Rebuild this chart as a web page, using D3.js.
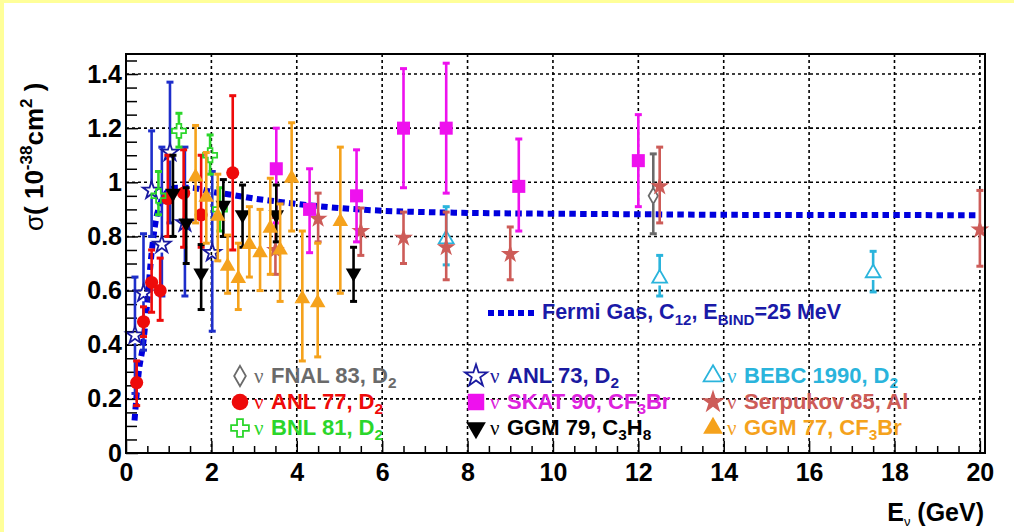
<!DOCTYPE html>
<html>
<head>
<meta charset="utf-8">
<script src="https://cdnjs.cloudflare.com/ajax/libs/d3/7.8.5/d3.min.js"></script>
<style>
body{margin:0;background:#fff;}
svg{display:block;font-family:"Liberation Sans",Arial,sans-serif;font-weight:bold;}
</style>
</head>
<body>
<div id="chart"></div>
<script>
/* data: [E (GeV), sigma, lower end of bar, upper end of bar] */
var ANL73 = [[0.21,0.435,0.22,0.65],[0.41,0.59,0.38,0.81],[0.6,0.97,0.80,1.19],[0.84,0.77,0.58,1.13],
	[1.03,1.11,0.85,1.37],[1.38,0.85,0.58,1.13],[2.02,0.74,0.45,1.04]];
var ANL77 = [[0.25,0.26,0.175,0.34],[0.41,0.485,0.43,0.54],[0.6,0.63,0.52,0.75],[0.8,0.60,0.49,0.72],
	[0.98,0.94,0.80,1.10],[1.35,0.96,0.76,1.12],[1.76,0.88,0.76,1.10],[2.5,1.035,0.75,1.32]];
var BNL81 = [[0.76,0.95,0.88,1.04],[1.24,1.19,1.13,1.255],[1.97,1.10,1.03,1.175],[2.2,0.90,0.82,0.98]];
var FNAL83 = [[12.35,0.95,0.81,1.105]];
var BEBC90 = [[7.5,0.79,0.695,0.91],[12.5,0.645,0.58,0.73],[17.5,0.665,0.595,0.745]];
var SERP85 = [[3.5,0.75,0.66,0.87],[4.5,0.865,0.78,0.96],[5.5,0.82,0.73,0.905],[6.5,0.795,0.70,0.89],
	[7.5,0.76,0.64,0.89],[9.0,0.735,0.64,0.835],[12.5,0.985,0.85,1.13],[20.0,0.825,0.69,0.97]];
var SKAT90 = [[3.52,1.05,0.85,1.20],[4.3,0.90,0.74,1.05],[5.4,0.95,0.78,1.12],[6.5,1.20,0.98,1.42],
	[7.5,1.20,0.96,1.44],[9.2,0.985,0.82,1.16],[12.0,1.08,0.91,1.25]];
var GGM79 = [[1.1,0.96,0.80,1.10],[1.41,0.85,0.70,0.98],[1.76,0.665,0.53,0.77],[2.28,0.915,0.80,1.01],
	[2.73,0.88,0.76,0.99],[3.52,0.88,0.78,0.99],[5.33,0.665,0.56,0.76]];
var GGM77 = [[1.63,1.02,0.85,1.21],[1.88,0.945,0.775,1.11],[2.15,0.875,0.71,1.03],[2.38,0.69,0.59,0.805],
	[2.63,0.645,0.53,0.775],[2.89,0.77,0.65,0.91],[3.14,0.74,0.60,0.90],[3.38,0.83,0.66,1.015],
	[3.61,0.75,0.56,0.92],[3.88,1.015,0.82,1.22],[4.13,0.57,0.34,0.82],[4.49,0.555,0.355,0.775],
	[5.02,0.855,0.59,1.13]];

/* fermi gas curve */
var fermiE = [0.2,0.3,0.4,0.5,0.6,0.7,0.8,0.9,1.0,1.2,1.5,2,2.5,3,3.5,4,5,6,7,8,10,12,14,16,18,20];
var fermiS = [0.12,0.30,0.40,0.56,0.74,0.86,0.92,0.95,0.97,0.98,0.98,0.965,0.953,0.94,0.93,0.92,0.905,0.895,0.89,0.887,0.884,0.882,0.88,0.879,0.879,0.878];

/* ticks */
var xTicks = [0,2,4,6,8,10,12,14,16,18,20];
var yTicks = [0,0.2,0.4,0.6,0.8,1,1.2,1.4];
var yTickLabels = ["0","0.2","0.4","0.6","0.8","1","1.2","1.4"];

/* legend labels, odd pieces are subscripts */
var lblFNAL = ["FNAL 83, D","2"];
var lblANL77 = ["ANL 77, D","2"];
var lblBNL = ["BNL 81, D","2"];
var lblANL73 = ["ANL 73, D","2"];
var lblSKAT = ["SKAT 90, CF","3","Br"];
var lblGGM79 = ["GGM 79, C","3","H","8"];
var lblBEBC = ["BEBC 1990, D","2"];
var lblSERP = ["Serpukov 85, Al"];
var lblGGM77 = ["GGM 77, CF","3","Br"];
var lblFermi = ["Fermi Gas, C","12",", E","BIND","=25 MeV"];

var W = 1014, H = 532;
var svg = d3.select("#chart").append("svg").attr("width",W).attr("height",H);
svg.append("rect").attr("width",W).attr("height",H).attr("fill","#ffff99");
svg.append("rect").attr("x",4).attr("y",3).attr("width",W-4).attr("height",H-3).attr("fill","#fff");

var x = d3.scaleLinear().domain([0,20.12]).range([126,985]);
var y = d3.scaleLinear().domain([0,1.474]).range([453,54]);

// grid
var grid = svg.append("g").attr("stroke","#000").attr("stroke-width",1.6).attr("stroke-dasharray","3,3");
grid.selectAll(".gx").data(xTicks.slice(1)).enter().append("line")
	.attr("x1",function(d){return x(d);}).attr("x2",function(d){return x(d);})
	.attr("y1",y(0)).attr("y2",y(1.474));
grid.selectAll(".gy").data(yTicks.slice(1)).enter().append("line")
	.attr("y1",function(d){return y(d);}).attr("y2",function(d){return y(d);})
	.attr("x1",x(0)).attr("x2",x(20.12));

// axes
function styleAxis(g){
	g.select(".domain").remove();
	g.selectAll("line").attr("stroke","#000").attr("stroke-width",1.5);
	g.selectAll("text").attr("font-size",25).attr("fill","#000").attr("font-family","Liberation Sans, Arial, sans-serif").attr("font-weight","bold");
}
var minorX = d3.range(0.5,20.1,0.5).filter(function(d){return d%2!==0;});
var minorY = d3.range(0.05,1.46,0.05).filter(function(d){return Math.abs(d*5-Math.round(d*5))>1e-6;});

svg.append("g").attr("transform","translate(0,"+y(0)+")")
	.call(d3.axisBottom(x).tickValues(minorX).tickSize(-7).tickFormat("")).call(styleAxis);
svg.append("g").attr("transform","translate(0,"+y(0)+")")
	.call(d3.axisBottom(x).tickValues(xTicks).tickSize(-12).tickPadding(10).tickFormat(d3.format("d"))).call(styleAxis);
svg.append("g").attr("transform","translate("+x(0)+",0)")
	.call(d3.axisLeft(y).tickValues(minorY).tickSize(-11).tickFormat("")).call(styleAxis);
svg.append("g").attr("transform","translate("+x(0)+",0)")
	.call(d3.axisLeft(y).tickValues(yTicks).tickSize(-12).tickPadding(4).tickFormat(function(d,i){return yTickLabels[i];})).call(styleAxis);

// fermi gas curve
var fermi = fermiE.map(function(e,i){return [e,fermiS[i]];});
var FERMI_COL = "#0000dd";
svg.append("path").datum(fermi)
	.attr("d",d3.line().x(function(d){return x(d[0]);}).y(function(d){return y(d[1]);}).curve(d3.curveMonotoneX))
	.attr("fill","none").attr("stroke",FERMI_COL).attr("stroke-width",6).attr("stroke-dasharray","6.5,4.3");

// series
var star = d3.symbolStar, tri = d3.symbolTriangle;
var series = [
	{data:ANL73, col:"#1e2ecb", mcol:"#1a1aa0", sym:star, size:95, open:true, gap:8, lbl:lblANL73, tcol:"#1a1aa0", c:1, r:0},
	{data:ANL77, col:"#ee0a0a", sym:d3.symbolCircle, size:135, lbl:lblANL77, c:0, r:1},
	{data:BNL81, col:"#2bd62b", sym:d3.symbolCross, size:110, open:true, gap:7, lbl:lblBNL, c:0, r:2},
	{data:FNAL83, col:"#6a6a6a", sym:d3.symbolDiamond, size:74, open:true, gap:8, lbl:lblFNAL, c:0, r:0},
	{data:BEBC90, col:"#2ab4dc", sym:tri, size:95, open:true, gap:7, lbl:lblBEBC, c:2, r:0},
	{data:SERP85, col:"#cd5c58", sym:star, size:110, lbl:lblSERP, c:2, r:1},
	{data:SKAT90, col:"#ee11ee", sym:d3.symbolSquare, size:170, lbl:lblSKAT, tcol:"#dd22dd", c:1, r:1},
	{data:GGM79, col:"#000", sym:tri, size:105, down:true, lbl:lblGGM79, c:1, r:2},
	{data:GGM77, col:"#f5a21c", sym:tri, size:105, lbl:lblGGM77, c:2, r:2}
];

function markerPath(s,scale){
	return d3.symbol().type(s.sym).size(s.size*(scale||1))();
}
function markerAttr(sel,s){
	var mc = s.mcol||s.col;
	if(s.open) sel.attr("fill","none").attr("stroke",mc).attr("stroke-width",1.8);
	else sel.attr("fill",s.col).attr("stroke","none");
}

series.forEach(function(s){
	var g = svg.append("g");
	var p = g.selectAll("g").data(s.data).enter().append("g");
	var gap = s.gap||0;
	p.append("line").attr("x1",function(d){return x(d[0]);}).attr("x2",function(d){return x(d[0]);})
		.attr("y1",function(d){return y(d[3]);}).attr("y2",function(d){return Math.max(y(d[3]),y(d[1])-gap);})
		.attr("stroke",s.col).attr("stroke-width",2.6);
	p.append("line").attr("x1",function(d){return x(d[0]);}).attr("x2",function(d){return x(d[0]);})
		.attr("y1",function(d){return Math.min(y(d[2]),y(d[1])+gap);}).attr("y2",function(d){return y(d[2]);})
		.attr("stroke",s.col).attr("stroke-width",2.6);
	[2,3].forEach(function(k){
		p.append("line").attr("x1",function(d){return x(d[0])-3.5;}).attr("x2",function(d){return x(d[0])+3.5;})
			.attr("y1",function(d){return y(d[k]);}).attr("y2",function(d){return y(d[k]);})
			.attr("stroke",s.col).attr("stroke-width",3);
	});
	p.append("path").attr("d",markerPath(s))
		.attr("transform",function(d){return "translate("+x(d[0])+","+y(d[1])+")"+(s.down?" rotate(180)":"");})
		.call(markerAttr,s);
});

// frame
svg.append("rect").attr("x",x(0)).attr("y",y(1.474)).attr("width",x(20.12)-x(0)).attr("height",y(0)-y(1.474))
	.attr("fill","none").attr("stroke","#000").attr("stroke-width",2);

// legend
var colX = [240,476,713], rowY = [376,402,428];
function addLabel(g,pieces,xx,yy,size,col,subShift){
	var t = g.append("text").attr("x",xx).attr("y",yy).attr("font-size",size).attr("fill",col);
	var sh = 0;
	pieces.forEach(function(txt,i){
		var sub = i%2===1;
		var dy = sub ? subShift : -sh;
		t.append("tspan").attr("dy",dy).attr("font-size",sub?size*0.7:size).text(txt);
		sh = sub ? subShift : 0;
	});
	return t;
}
var leg = svg.append("g");
series.forEach(function(s){
	var cx = colX[s.c], cy = rowY[s.r];
	leg.append("path").attr("d",markerPath(s,1.6))
		.attr("transform","translate("+cx+","+cy+")"+(s.down?" rotate(180)":""))
		.call(markerAttr,s);
	var tc = s.tcol||s.col;
	leg.append("text").attr("x",cx+14).attr("y",cy+7).attr("font-size",21).attr("font-weight","normal")
		.attr("font-family","Liberation Serif, Times New Roman, serif").attr("fill",tc).text("ν");
	addLabel(leg,s.lbl,cx+31,cy+7,22,tc,5);
});

// fermi legend
leg.append("line").attr("x1",488).attr("x2",536).attr("y1",313).attr("y2",313)
	.attr("stroke",FERMI_COL).attr("stroke-width",6).attr("stroke-dasharray","6,4");
addLabel(leg,lblFermi,542,319,21.5,"#1a1aa8",6);

// axis titles
var yt = svg.append("text").attr("transform","translate(43,231) rotate(-90)")
	.attr("text-anchor","start").attr("font-size",26).attr("fill","#000");
yt.append("tspan").attr("font-weight","normal").text("σ");
yt.append("tspan").text("( 10");
yt.append("tspan").attr("dy",-11).attr("font-size",17).text("-38");
yt.append("tspan").attr("dy",11).text("cm");
yt.append("tspan").attr("dy",-11).attr("font-size",17).text("2");
yt.append("tspan").attr("dy",11).text(" )");

var xt = svg.append("text").attr("x",984).attr("y",521).attr("text-anchor","end").attr("font-size",25).attr("fill","#000");
xt.append("tspan").text("E");
xt.append("tspan").attr("dy",5).attr("font-size",13).attr("font-weight","normal").text("ν");
xt.append("tspan").attr("dy",-5).text(" (GeV)");
</script>
</body>
</html>
